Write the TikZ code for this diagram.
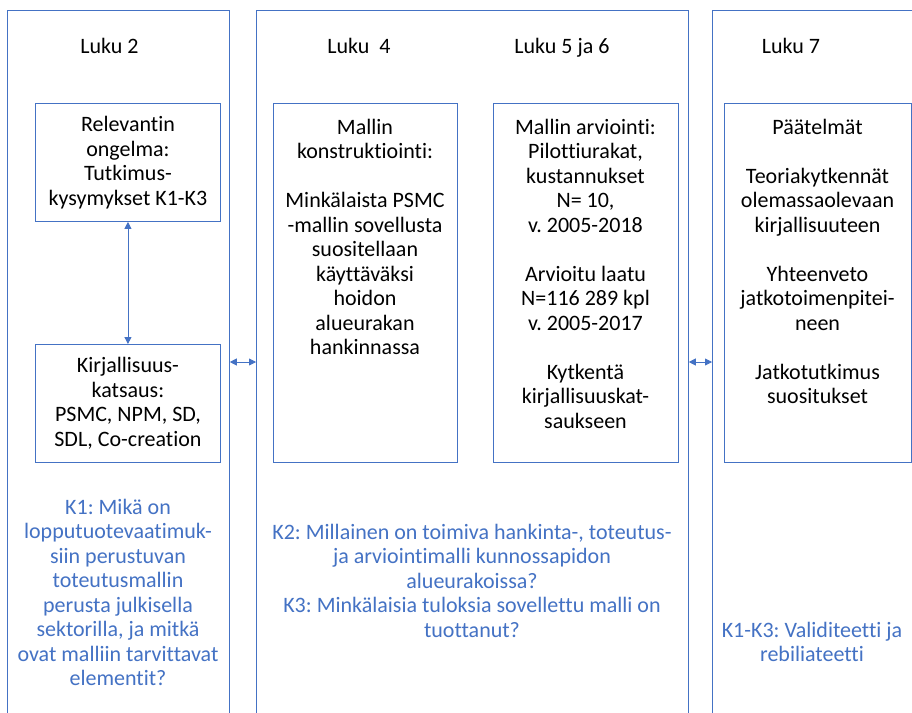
\documentclass[tikz,border=0pt]{standalone}
\usepackage{fontspec}
\setmainfont{Carlito}[Ligatures={NoCommon}]
\usetikzlibrary{arrows.meta}
\definecolor{frame}{HTML}{4472C4}
\definecolor{qblue}{HTML}{4472C4}
\frenchspacing
\begin{document}
\begin{tikzpicture}[x=1pt,y=-1pt,
  every node/.style={font=\fontsize{22}{24.5}\selectfont, align=center, inner sep=0pt},
  column/.style={draw=frame, line width=0.8pt, rectangle, anchor=north west, minimum height=800pt},
  box/.style={draw=frame, line width=0.9pt, rectangle, anchor=north west},
  heading/.style={anchor=base, text=black},
  boxtext/.style={anchor=north, text=black},
  question/.style={anchor=north, text=qblue},
  link/.style={draw=frame, line width=0.8pt, {Triangle[length=7pt,width=7pt]}-{Triangle[length=7pt,width=7pt]}}
]
\clip (0,0) rectangle (912,712);
\fill[white] (0,0) rectangle (912,712);

% chapter columns (they run past the lower edge)
\node[column, minimum width=222pt] (col1) at (7,10) {};
\node[column, minimum width=432pt] (col2) at (256,10) {};
\node[column, minimum width=300pt] (col3) at (712,10) {};

% chapter headings
\node[heading] (h2) at (109.5,53.5) {Luku 2};
\node[heading] (h4) at (359,53.5) {Luku\ \ 4};
\node[heading] (h56) at (562,53.5) {Luku 5 ja 6};
\node[heading] (h7) at (791,53.5) {Luku 7};

% content boxes
\node[box, minimum width=185pt, minimum height=118pt] (rel) at (35,103)
  {Relevantin\\ongelma:\\Tutkimus-\\kysymykset K1-K3};
\node[box, minimum width=185pt, minimum height=118pt] (kir) at (35,344)
  {Kirjallisuus-\\katsaus:\\PSMC, NPM, SD,\\SDL, Co-creation};
\node[box, minimum width=184pt, minimum height=359pt] (mk) at (273,103) {};
\node[box, minimum width=185pt, minimum height=359pt] (ma) at (493,103) {};
\node[box, minimum width=187pt, minimum height=359pt] (pa) at (724,103) {};

\node[boxtext] (mktext) at (365,119)
  {Mallin\\konstruktiointi:\\[24.5pt]Minkälaista PSMC\\-mallin sovellusta\\suositellaan\\käyttäväksi\\hoidon\\alueurakan\\hankinnassa};
\node[boxtext] (matext) at (585.5,119)
  {Mallin arviointi:\\Pilottiurakat,\\kustannukset\\N= 10,\\v. 2005-2018\\[24.5pt]Arvioitu laatu\\N=116 289 kpl\\v. 2005-2017\\[24.5pt]Kytkentä\\kirjallisuuskat-\\saukseen};
\node[boxtext] (patext) at (817.5,119)
  {Päätelmät\\[24.5pt]Teoriakytkennät\\olemassaolevaan\\kirjallisuuteen\\[24.5pt]Yhteenveto\\jatkotoimenpitei-\\neen\\[24.5pt]Jatkotutkimus\\suositukset};

% research questions
\node[question] (q1) at (118,499)
  {K1: Mikä on\\lopputuotevaatimuk-\\siin perustuvan\\toteutusmallin\\perusta julkisella\\sektorilla, ja mitkä\\ovat malliin tarvittavat\\elementit?};
\node[question] (q23) at (472,524)
  {K2: Millainen on toimiva hankinta-, toteutus-\\ja arviointimalli kunnossapidon\\alueurakoissa?\\K3: Minkälaisia tuloksia sovellettu malli on\\tuottanut?};
\node[question] (q13) at (812,622)
  {K1-K3: Validiteetti ja\\rebiliateetti};

% connectors
\coordinate (ylink) at (0,362);
\draw[link] (rel.south) -- (kir.north);
\draw[link] (col1.east |- ylink) -- (col2.west |- ylink);
\draw[link] (col2.east |- ylink) -- (col3.west |- ylink);
\end{tikzpicture}
\end{document}
